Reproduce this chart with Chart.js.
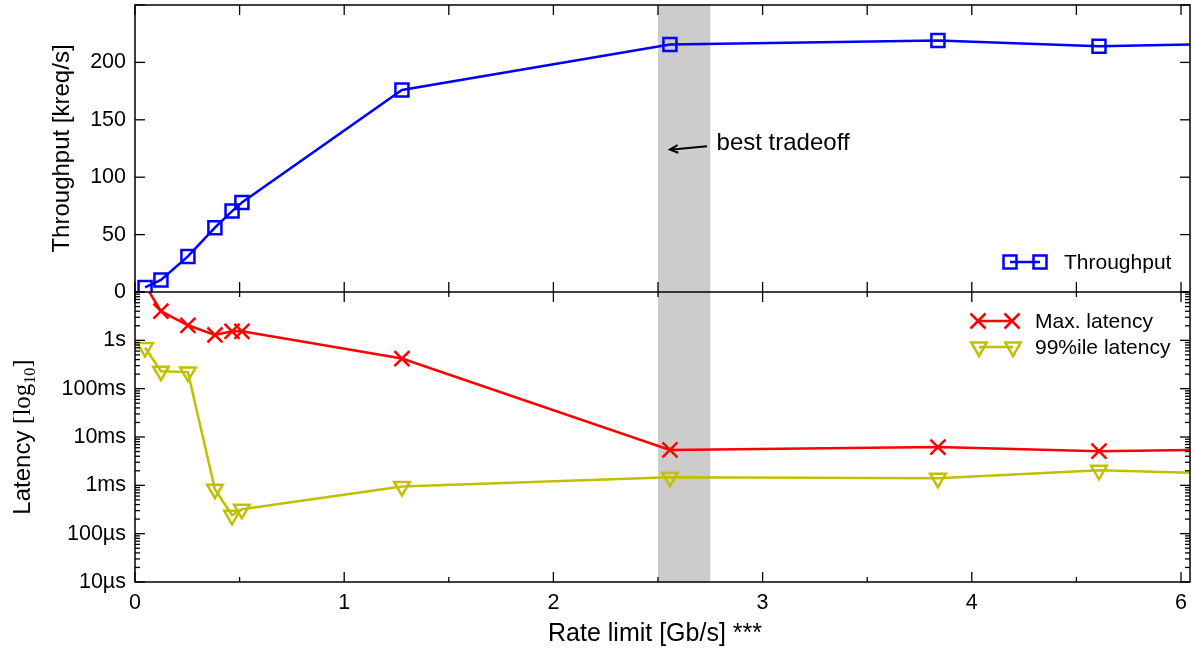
<!DOCTYPE html>
<html>
<head>
<meta charset="utf-8">
<script src="https://cdn.jsdelivr.net/npm/chart.js@4/dist/chart.umd.min.js"></script>
<style>
  html, body { margin: 0; padding: 0; background: #fff; }
  #wrap { width: 1195px; height: 653px; }
</style>
</head>
<body>
<div id="wrap"><canvas id="c" width="1195" height="653"></canvas></div>
<script>
// Measured rate limits (Gb/s) and the resulting throughput / latencies
const rateGbps       = [0.048, 0.124, 0.253, 0.382, 0.464, 0.511, 1.276, 2.557, 3.838, 4.608, 5.3];
const throughputKreq = [4, 10.5, 31, 56, 70.5, 78, 176, 215.5, 219, 214, 216.5];
const maxLatencySec  = [14, 4.0, 2.05, 1.29, 1.54, 1.54, 0.42, 0.0054, 0.0062, 0.0051, 0.0056];
const p99LatencySec  = [0.71, 0.23, 0.22, 0.00083, 0.00024, 0.00032, 0.00095, 0.00147, 0.0014, 0.00205, 0.0017];

// Axis ticks
const xTickValues       = [0, 1, 2, 3, 4, 5];
const xTickLabels       = ['0', '1', '2', '3', '4', '6'];
const throughputTicks   = [0, 50, 100, 150, 200];
const latencyTickValues = [1e-5, 1e-4, 1e-3, 1e-2, 1e-1, 1];
const latencyTickLabels = ['10µs', '100µs', '1ms', '10ms', '100ms', '1s'];

// Highlighted operating range
const bestBand = [2.5, 2.75];

const SANS = '"Liberation Sans", Arial, Helvetica, sans-serif';
const SERIF = '"Liberation Serif", "DejaVu Serif", serif';
const BLUE = '#0000ff', RED = '#ff0000', OLIVE = '#c0c000';

function pts(ys) { return rateGbps.map((x, i) => ({ x: x, y: ys[i] })); }

// Marker shapes for the legend samples
function marker(ctx, style, x, y, color) {
  ctx.save();
  ctx.strokeStyle = color; ctx.lineWidth = 2.5;
  ctx.beginPath();
  if (style === 'rect') {
    ctx.rect(x - 6.5, y - 6.5, 13, 13);
  } else if (style === 'cross') {
    ctx.moveTo(x - 7.5, y - 7.5); ctx.lineTo(x + 7.5, y + 7.5);
    ctx.moveTo(x + 7.5, y - 7.5); ctx.lineTo(x - 7.5, y + 7.5);
  } else {
    ctx.moveTo(x - 7.8, y - 4.5); ctx.lineTo(x + 7.8, y - 4.5); ctx.lineTo(x, y + 9); ctx.closePath();
  }
  ctx.stroke();
  ctx.restore();
}

// Axis boxes get a fixed size and no extra edge padding
function fixBox(size) {
  return s => {
    if (s.isHorizontal()) s.height = size; else s.width = size;
    s.paddingTop = 0; s.paddingBottom = 0; s.paddingLeft = 0; s.paddingRight = 0;
  };
}

const framePlugin = {
  id: 'frame',
  beforeDatasetsDraw(chart) {
    const { ctx, chartArea: a, scales: { x } } = chart;
    ctx.save();
    ctx.fillStyle = '#cccccc';
    const x0 = x.getPixelForValue(bestBand[0]), x1 = x.getPixelForValue(bestBand[1]);
    ctx.fillRect(x0, a.top, x1 - x0, a.bottom - a.top);
    ctx.restore();
  },
  // each series stays inside its own panel (throughput markers may sit on the divider)
  beforeDatasetDraw(chart, args) {
    const ys = chart.scales[args.meta.yAxisID];
    const a = chart.chartArea;
    const extra = args.meta.yAxisID === 'yT' ? 4 : 0;
    chart.ctx.save();
    chart.ctx.beginPath();
    chart.ctx.rect(a.left, ys.top, a.right - a.left, ys.bottom - ys.top + extra);
    chart.ctx.clip();
  },
  afterDatasetDraw(chart) {
    chart.ctx.restore();
  },
  afterDatasetsDraw(chart) {
    const { ctx, chartArea: a, scales } = chart;
    const x = scales.x, yT = scales.yT, yL = scales.yL;
    const mid = yT.bottom;
    ctx.save();
    ctx.strokeStyle = '#000';
    ctx.lineWidth = 1.3;
    const seg = (x1, y1, x2, y2) => { ctx.beginPath(); ctx.moveTo(x1, y1); ctx.lineTo(x2, y2); ctx.stroke(); };

    // x ticks every 0.5 on bottom, middle and top edges
    for (let v = 0; v <= 5.0001; v += 0.5) {
      const px = x.getPixelForValue(v);
      const major = Math.abs(v - Math.round(v)) < 1e-6;
      seg(px, a.bottom, px, a.bottom - (major ? 10 : 5));
      seg(px, mid, px, mid - 10);
      seg(px, mid, px, mid + (major ? 10 : 5));
      seg(px, a.top, px, a.top + 10);
    }
    // throughput ticks
    for (let v = 0; v <= 250; v += 50) {
      const py = yT.getPixelForValue(v);
      seg(a.left, py, a.left + 10, py);
      seg(a.right, py, a.right - 10, py);
    }
    // latency ticks (decades plus 2..9 minors)
    for (let e = -5; e <= 1; e++) {
      for (let k = 1; k <= 9; k++) {
        const v = k * Math.pow(10, e);
        if (v > 10.0001) break;
        const py = yL.getPixelForValue(v);
        const len = k === 1 ? 10 : 5;
        seg(a.left, py, a.left + len, py);
        seg(a.right, py, a.right - len, py);
      }
    }
    // frame and panel divider
    ctx.lineWidth = 1.5;
    ctx.strokeRect(a.left, a.top, a.right - a.left, a.bottom - a.top);
    seg(a.left, mid, a.right, mid);

    // legends
    ctx.fillStyle = '#000';
    ctx.font = '21px ' + SANS;
    ctx.textBaseline = 'middle';
    ctx.textAlign = 'left';
    const legendRow = (x1, x2, y, color, style, text, tx) => {
      ctx.save(); ctx.strokeStyle = color; ctx.lineWidth = 2.5; seg(x1, y, x2, y); ctx.restore();
      marker(ctx, style, x1, y, color);
      marker(ctx, style, x2, y, color);
      ctx.fillText(text, tx, y + 1);
    };
    legendRow(1010, 1040, 262, BLUE, 'rect', chart.data.datasets[0].label, 1064);
    legendRow(978, 1012, 321, RED, 'cross', chart.data.datasets[1].label, 1035);
    legendRow(979, 1013, 347, OLIVE, 'tri', chart.data.datasets[2].label, 1035);

    // annotation arrow
    const tipX = x.getPixelForValue(2.557), tipY = yT.getPixelForValue(124);
    const tailX = x.getPixelForValue(2.734), tailY = yT.getPixelForValue(127);
    ctx.lineWidth = 2;
    seg(tailX, tailY, tipX, tipY);
    const ang = Math.atan2(tipY - tailY, tipX - tailX);
    const h = 9, spread = 0.45;
    ctx.beginPath();
    ctx.moveTo(tipX - h * Math.cos(ang - spread), tipY - h * Math.sin(ang - spread));
    ctx.lineTo(tipX, tipY);
    ctx.lineTo(tipX - h * Math.cos(ang + spread), tipY - h * Math.sin(ang + spread));
    ctx.stroke();
    ctx.font = '24px ' + SANS;
    ctx.fillText('best tradeoff', x.getPixelForValue(2.78), yT.getPixelForValue(129.5));

    // axis titles
    ctx.textAlign = 'center';
    ctx.font = '25px ' + SANS;
    ctx.fillText('Rate limit [Gb/s] ***', 655, 634);

    ctx.save();
    ctx.translate(62, (yT.top + yT.bottom) / 2);
    ctx.rotate(-Math.PI / 2);
    ctx.font = '24px ' + SANS;
    ctx.fillText('Throughput [kreq/s]', 0, 0);
    ctx.restore();

    ctx.save();
    ctx.translate(22, (yL.top + yL.bottom) / 2);
    ctx.rotate(-Math.PI / 2);
    const parts = [
      { t: 'Latency ', f: '24px ' + SANS, dy: 0 },
      { t: '[log', f: '25px ' + SERIF, dy: 0 },
      { t: '10', f: '16px ' + SERIF, dy: 5 },
      { t: ']', f: '25px ' + SERIF, dy: 0 }
    ];
    let total = 0;
    parts.forEach(p => { ctx.font = p.f; p.w = ctx.measureText(p.t).width; total += p.w; });
    let cx = -total / 2;
    ctx.textAlign = 'left';
    ctx.textBaseline = 'alphabetic';
    parts.forEach(p => { ctx.font = p.f; ctx.fillText(p.t, cx, 8 + p.dy); cx += p.w; });
    ctx.restore();

    ctx.restore();
  }
};

const tickFont = { family: SANS, size: 21.5 };

new Chart(document.getElementById('c'), {
  type: 'line',
  data: {
    datasets: [
      {
        label: 'Throughput', data: pts(throughputKreq), xAxisID: 'x', yAxisID: 'yT',
        borderColor: BLUE, backgroundColor: 'rgba(0,0,0,0)', borderWidth: 2.5,
        pointStyle: 'rect', pointRadius: 9.2, pointBorderWidth: 2.5,
        pointBorderColor: BLUE, pointBackgroundColor: 'rgba(0,0,0,0)', tension: 0
      },
      {
        label: 'Max. latency', data: pts(maxLatencySec), xAxisID: 'x', yAxisID: 'yL',
        borderColor: RED, backgroundColor: 'rgba(0,0,0,0)', borderWidth: 2.5,
        pointStyle: 'crossRot', pointRadius: 10.6, pointBorderWidth: 2.5,
        pointBorderColor: RED, pointBackgroundColor: 'rgba(0,0,0,0)', tension: 0
      },
      {
        label: '99%ile latency', data: pts(p99LatencySec), xAxisID: 'x', yAxisID: 'yL',
        borderColor: OLIVE, backgroundColor: 'rgba(0,0,0,0)', borderWidth: 2.5,
        pointStyle: 'triangle', pointRotation: 180, pointRadius: 9, pointBorderWidth: 2.5,
        pointBorderColor: OLIVE, pointBackgroundColor: 'rgba(0,0,0,0)', tension: 0
      }
    ]
  },
  options: {
    responsive: false,
    animation: false,
    devicePixelRatio: 1,
    layout: { autoPadding: false, padding: { top: 5, right: 5, left: 0, bottom: 0 } },
    plugins: { legend: { display: false }, tooltip: { enabled: false } },
    scales: {
      x: {
        type: 'linear', position: 'bottom', min: 0, max: 5.043,
        afterBuildTicks: s => { s.ticks = xTickValues.map(v => ({ value: v })); },
        ticks: { callback: (v, i) => xTickLabels[i], font: tickFont, color: '#000', padding: 8, maxRotation: 0, autoSkip: false },
        grid: { display: false, drawTicks: false }, border: { display: false },
        afterFit: fixBox(71)
      },
      yL: {
        type: 'logarithmic', position: 'left', stack: 'panels', stackWeight: 290, min: 1e-5, max: 10,
        afterBuildTicks: s => { s.ticks = latencyTickValues.map(v => ({ value: v })); },
        ticks: { callback: (v, i) => latencyTickLabels[i], font: tickFont, color: '#000', padding: 9, autoSkip: false },
        grid: { display: false, drawTicks: false }, border: { display: false },
        afterFit: fixBox(135)
      },
      yT: {
        type: 'linear', position: 'left', stack: 'panels', stackWeight: 287, min: 0, max: 250,
        afterBuildTicks: s => { s.ticks = throughputTicks.map(v => ({ value: v })); },
        ticks: { callback: (v, i) => throughputTicks[i], font: tickFont, color: '#000', padding: 9, autoSkip: false },
        grid: { display: false, drawTicks: false }, border: { display: false },
        afterFit: fixBox(135)
      }
    }
  },
  plugins: [framePlugin]
});
</script>
</body>
</html>
